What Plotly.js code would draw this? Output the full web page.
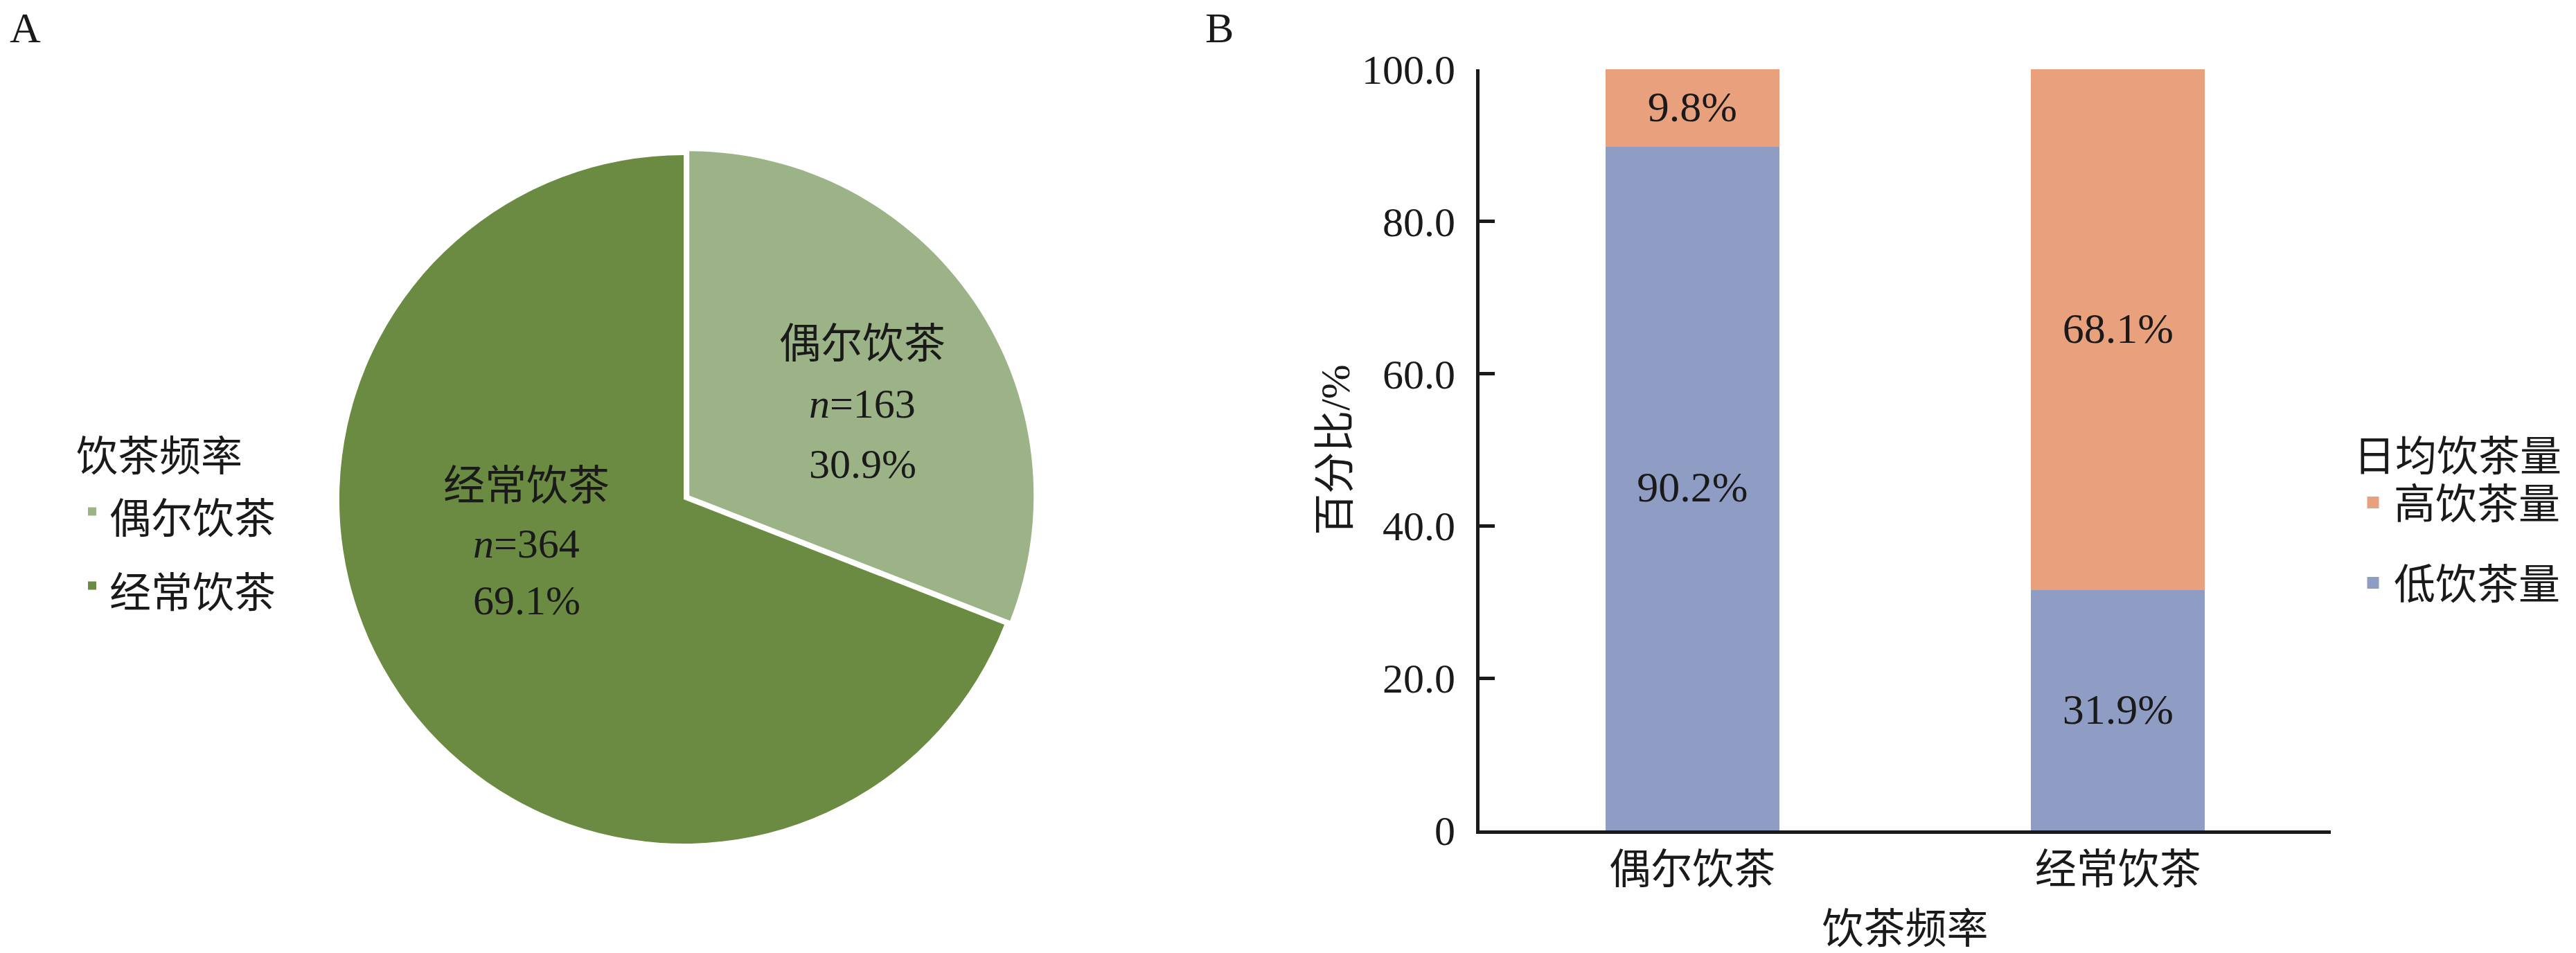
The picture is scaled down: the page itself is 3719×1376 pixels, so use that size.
<!DOCTYPE html>
<html>
<head>
<meta charset="utf-8">
<script src="https://cdn.plot.ly/plotly-3.0.1.min.js"></script>
<style>
  html, body { margin: 0; padding: 0; background: #fff; }
  #chart { width: 3719px; height: 1376px; }
</style>
</head>
<body>
<div id="chart"></div>
<script>
// panel A: tea drinking frequency
var pieLabels = ['偶尔饮茶', '经常饮茶'];
var pieCounts = [163, 364];
var pieColors = ['#9bb386', '#6a8b41'];

// panel B: daily tea amount within each frequency group (%)
var barCategories = ['偶尔饮茶', '经常饮茶'];
var lowShare = [90.2, 31.9];
var highShare = [9.8, 68.1];
var yTickVals = [0, 20, 40, 60, 80, 100];
var yTickText = ['0', '20.0', '40.0', '60.0', '80.0', '100.0'];

var W = 3719, H = 1376;
var FONT = "'Liberation Serif', 'Noto Sans CJK SC', serif";
var INK = '#1a1a1a';

function px(x) { return x / W; }
function py(y) { return (H - y) / H; }

var total = pieCounts.reduce(function(a, b) { return a + b; }, 0);

// legend text kept at 60px while the legend line box is taller (wider item spacing)
var pieLegendNames = pieLabels.map(function(s) { return '<span style="font-size:60px">' + s + '</span>'; });

var pieTrace =
{
    type: 'pie',
    labels: pieLegendNames,
    values: pieCounts,
    sort: false,
    direction: 'clockwise',
    rotation: 0,
    pull: [0.02, 0],
    marker: {colors: pieColors, line: {width: 0}},
    textinfo: 'none',
    domain: {x: [px(480), px(1494)], y: [py(1228), py(214)]},
    legend: 'legend',
    hoverinfo: 'none'
};

var lowTrace =
{
    type: 'bar',
    name: '低饮茶量',
    x: barCategories,
    y: lowShare,
    marker: {color: '#8f9dc5', line: {color: '#8f9dc5', width: 8}},
    texttemplate: '%{y:.1f}%',
    textposition: 'inside',
    insidetextanchor: 'middle',
    textangle: 0,
    constraintext: 'none',
    textfont: {family: FONT, size: 62, color: INK},
    legend: 'legend2',
    legendgroup: 'low',
    legendrank: 2
};

var highTrace =
{
    type: 'bar',
    name: '高饮茶量',
    x: barCategories,
    y: highShare,
    marker: {color: '#e9a17d', line: {color: '#e9a17d', width: 8}},
    texttemplate: '%{y:.1f}%',
    textposition: 'inside',
    insidetextanchor: 'middle',
    textangle: 0,
    constraintext: 'none',
    textfont: {family: FONT, size: 62, color: INK},
    legend: 'legend2',
    legendgroup: 'high',
    legendrank: 1
};

// slice labels: name, n=count, share
var labelSpots = [[1245, 497, 583, 670], [760, 702, 785, 867]];
var sliceNotes = [];
for (var iii = 0; iii < pieLabels.length; iii++)
{
    var lines = [pieLabels[iii], '<i>n</i>=' + pieCounts[iii], (pieCounts[iii] / total * 100).toFixed(1) + '%'];
    for (var k = 0; k < 3; k++)
    {
        sliceNotes.push({text: lines[k], xref: 'paper', yref: 'paper',
            x: px(labelSpots[iii][0]), y: py(labelSpots[iii][k + 1]),
            xanchor: 'center', yanchor: 'middle', showarrow: false,
            font: {family: FONT, size: 60, color: INK}});
    }
}

var layout =
{
    width: W,
    height: H,
    margin: {l: 0, r: 0, t: 0, b: 0},
    paper_bgcolor: '#ffffff',
    plot_bgcolor: '#ffffff',
    font: {family: FONT, size: 60, color: INK},
    barmode: 'stack',
    bargap: 0.604,
    showlegend: true,
    xaxis:
    {
        domain: [px(2136), px(3365)],
        range: [-0.5, 1.5],
        showline: true, linecolor: INK, linewidth: 5,
        showgrid: false, zeroline: false,
        ticks: '',
        tickfont: {family: FONT, size: 60, color: INK},
        title: {text: '饮茶频率', standoff: 33, font: {family: FONT, size: 60, color: INK}}
    },
    yaxis:
    {
        domain: [py(1199), py(100)],
        range: [0, 100],
        tickvals: yTickVals,
        ticktext: yTickText,
        showline: true, linecolor: INK, linewidth: 5,
        showgrid: false, zeroline: false,
        ticks: 'inside', ticklen: 22, tickwidth: 5, tickcolor: INK,
        ticklabelstandoff: 18,
        tickfont: {family: FONT, size: 60, color: INK},
        title: {text: '百分比/%', standoff: 0, font: {family: FONT, size: 60, color: INK}}
    },
    legend:
    {
        x: px(108), y: py(602), xanchor: 'left', yanchor: 'top',
        bgcolor: 'rgba(0,0,0,0)',
        font: {family: FONT, size: 80, color: INK},
        title: {text: '饮茶频率', font: {family: FONT, size: 60, color: INK}},
        itemwidth: 40
    },
    legend2:
    {
        x: px(3396), y: py(602), xanchor: 'left', yanchor: 'top',
        bgcolor: 'rgba(0,0,0,0)',
        traceorder: 'grouped',
        tracegroupgap: 35,
        font: {family: FONT, size: 60, color: INK},
        title: {text: '日均饮茶量', font: {family: FONT, size: 60, color: INK}},
        itemwidth: 50
    },
    annotations:
    [
        {text: 'A', xref: 'paper', yref: 'paper', x: px(36), y: py(40), xanchor: 'center', yanchor: 'middle',
         showarrow: false, font: {family: FONT, size: 62, color: INK}},
        {text: 'B', xref: 'paper', yref: 'paper', x: px(1760), y: py(40), xanchor: 'center', yanchor: 'middle',
         showarrow: false, font: {family: FONT, size: 62, color: INK}}
    ].concat(sliceNotes)
};

Plotly.newPlot('chart', [pieTrace, lowTrace, highTrace], layout, {displayModeBar: false, staticPlot: true});
</script>
</body>
</html>
